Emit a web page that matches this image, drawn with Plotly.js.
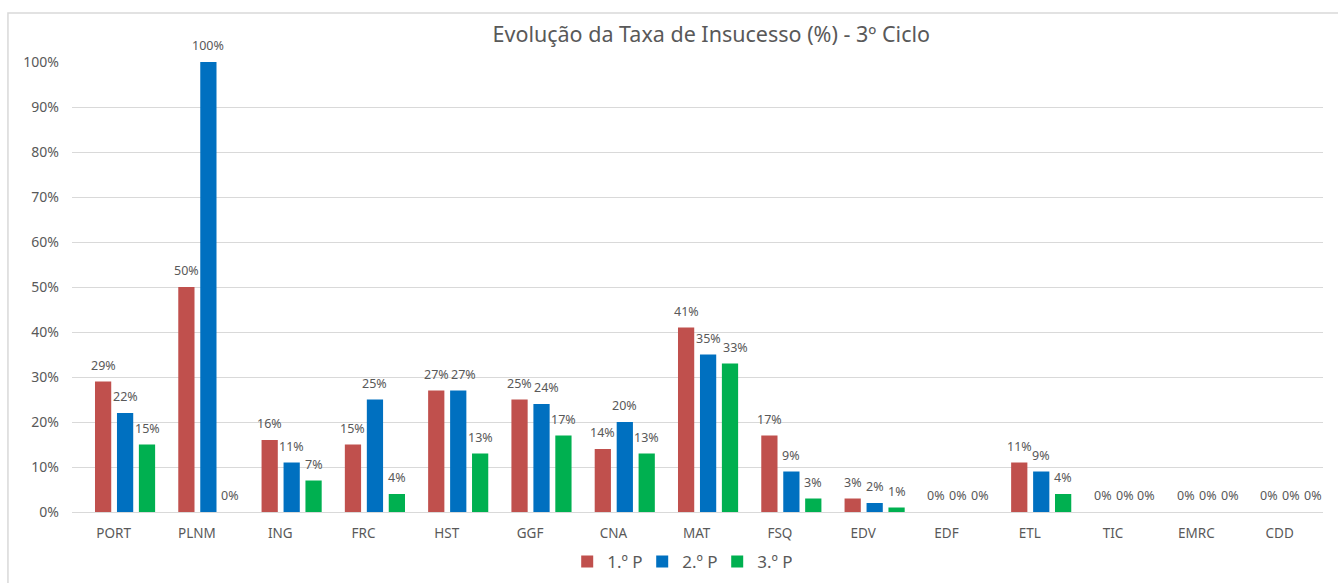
<!DOCTYPE html>
<html><head><meta charset="utf-8">
<script src="https://cdn.plot.ly/plotly-3.0.1.min.js"></script>
<style>html,body{margin:0;padding:0;background:#fff;}#c{width:1338px;height:583px;}</style>
</head><body><div id="c"></div>
<script>
const categories = ["PORT","PLNM","ING","FRC","HST","GGF","CNA","MAT","FSQ","EDV","EDF","ETL","TIC","EMRC","CDD"];
const p1 = [29,50,16,15,27,25,14,41,17,3,0,11,0,0,0];
const p2 = [22,100,11,25,27,24,20,35,9,2,0,9,0,0,0];
const p3 = [15,0,7,4,13,17,13,33,3,1,0,4,0,0,0];
const seriesNames = ["1.º P","2.º P","3.º P"];
const colors = ["#C0504D","#0070C0","#00B050"];
const offsets = [-0.224, 0.040, 0.303];
const barW = 0.195;
const font = "Noto Sans, Open Sans, sans-serif";
const txtColor = "#595959";
const series = [p1,p2,p3];
const traces = series.map((v,i)=>({
  type:"bar", name:seriesNames[i], x:categories, y:v.map(d=>d/100),
  marker:{color:colors[i]}, offset:offsets[i], width:barW,
  hoverinfo:"x+y"
}));
const annotations = [];
series.forEach((v,i)=>{
  v.forEach((d,j)=>{
    // nudge a label right when it would collide with its left neighbour (like Excel does)
    let shift = 0;
    if (i > 0) {
      const prev = series[i-1][j];
      if (String(d).length >= 2 && String(prev).length >= 2 && Math.abs(prev - d) <= 2) shift = 5;
    }
    annotations.push({xref:"x", yref:"y", x:j+offsets[i]+barW/2, y:d/100, text:d+"%",
      showarrow:false, yanchor:"bottom", xanchor:"center", yshift:7, xshift:shift, borderpad:0,
      font:{family:font,size:12.5,color:txtColor}});
  });
});
const layout = {
  width:1338, height:583,
  margin:{l:72,r:15,t:62,b:71},
  paper_bgcolor:"#fff", plot_bgcolor:"#fff",
  title:{text:"Evolução da Taxa de Insucesso (%) - 3º Ciclo", font:{family:font,size:21.5,color:txtColor}, x:0.511, xref:"paper", xanchor:"center", y:0.9417, yanchor:"middle"},
  barmode:"overlay",
  xaxis:{tickfont:{family:font,size:13.5,color:txtColor}, showline:true, linecolor:"#d9d9d9", ticks:"", ticklabelstandoff:9, fixedrange:true},
  yaxis:{range:[0,1], dtick:0.1, tickformat:".0%", tickfont:{family:font,size:14,color:txtColor}, gridcolor:"#d9d9d9", zeroline:false, showline:false, ticks:"", ticklabelstandoff:12},
  legend:{orientation:"h", x:0.508, xref:"container", xanchor:"center", y:1-562/583, yref:"container", yanchor:"middle", font:{family:font,size:17,color:txtColor}, entrywidth:30, entrywidthmode:"pixels"},
  annotations:annotations,
  shapes:[{type:"rect", xref:"paper", yref:"paper", x0:-0.0512, x1:1.03, y0:-0.2, y1:1.1089, line:{color:"#d9d9d9",width:1.5}, fillcolor:"rgba(0,0,0,0)", layer:"below"}]
};
Plotly.newPlot("c", traces, layout, {displayModeBar:false, staticPlot:true});
</script></body></html>
